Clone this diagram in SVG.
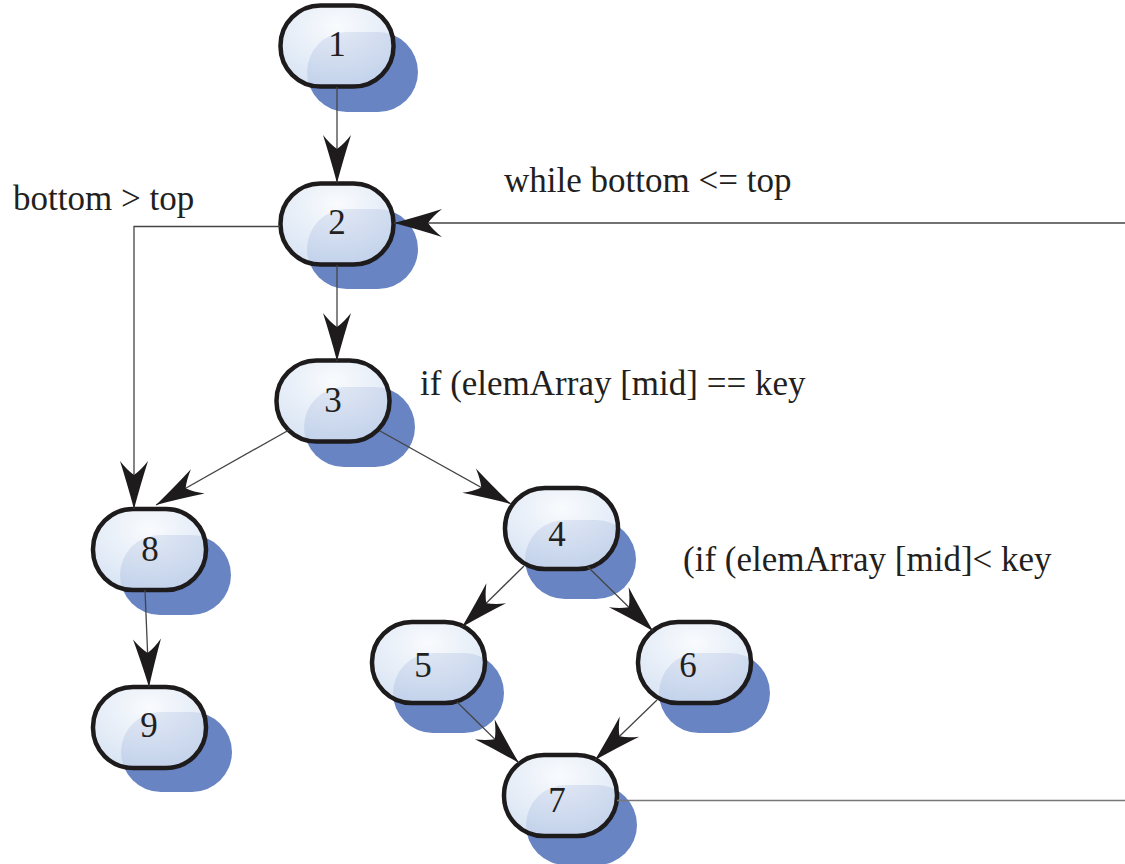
<svg xmlns="http://www.w3.org/2000/svg" width="1125" height="864" viewBox="0 0 1125 864">
<style>
.shadow{fill:#6884c3}
.body{fill:url(#g);fill-opacity:0.86;stroke:#1e1b1c;stroke-width:4.5}
.num{font-family:"Liberation Serif","DejaVu Serif",serif;font-size:35px;fill:#231f20;text-anchor:middle}
.lbl{font-family:"Liberation Serif","DejaVu Serif",serif;font-size:35px;fill:#231f20}
.edge{fill:none;stroke:#444;stroke-width:1.3;marker-end:url(#arr)}
.edge2{fill:none;stroke:#777;stroke-width:1.5}
</style>
<defs>
<radialGradient id="g" cx="0.5" cy="0.25" r="0.8">
<stop offset="0" stop-color="#f8fafd"/>
<stop offset="1" stop-color="#d0def1"/>
</radialGradient>
<marker id="arr" markerUnits="userSpaceOnUse" markerWidth="60" markerHeight="40" viewBox="0 0 60 40" refX="50" refY="20" orient="auto">
<path d="M50,20 Q24,13 2,6 Q11,13 16,20 Q11,27 2,34 Q24,27 50,20 Z" fill="#1e1b1c"/>
</marker>
</defs>
<rect width="1125" height="864" fill="#ffffff"/>

<g id="node1">
<rect class="shadow" x="307" y="32" width="111" height="80" rx="40"/>
<rect class="body" x="280.5" y="5.5" width="113" height="81" rx="40"/>
<text class="num" x="337" y="56">1</text>
</g>
<g id="node2">
<rect class="shadow" x="307" y="209" width="111" height="80" rx="40"/>
<rect class="body" x="280.5" y="183.5" width="113" height="81" rx="40"/>
<text class="num" x="337" y="234">2</text>
</g>
<g id="node3">
<rect class="shadow" x="304" y="387" width="111" height="80" rx="40"/>
<rect class="body" x="276.5" y="360.5" width="113" height="81" rx="40"/>
<text class="num" x="333" y="412">3</text>
</g>
<g id="node4">
<rect class="shadow" x="525" y="520" width="111" height="79" rx="40"/>
<rect class="body" x="505" y="488" width="113" height="81" rx="40"/>
<text class="num" x="557" y="546">4</text>
</g>
<g id="node5">
<rect class="shadow" x="393" y="653" width="111" height="80" rx="40"/>
<rect class="body" x="372" y="622" width="113" height="81" rx="40"/>
<text class="num" x="423" y="677">5</text>
</g>
<g id="node6">
<rect class="shadow" x="659" y="653" width="111" height="80" rx="40"/>
<rect class="body" x="638" y="622" width="113" height="81" rx="40"/>
<text class="num" x="688" y="677">6</text>
</g>
<g id="node7">
<rect class="shadow" x="526" y="785" width="111" height="80" rx="40"/>
<rect class="body" x="504" y="755" width="113" height="81" rx="40"/>
<text class="num" x="557" y="812">7</text>
</g>
<g id="node8">
<rect class="shadow" x="120" y="535" width="111" height="80" rx="40"/>
<rect class="body" x="93" y="509" width="113" height="81" rx="40"/>
<text class="num" x="150" y="561">8</text>
</g>
<g id="node9">
<rect class="shadow" x="121" y="712" width="111" height="80" rx="40"/>
<rect class="body" x="93" y="687" width="113" height="81" rx="40"/>
<text class="num" x="149" y="737">9</text>
</g>

<g id="connectors">
<path class="edge" d="M337,87 V183"/>
<path class="edge" d="M337,265 V361"/>
<path class="edge" d="M280,226.5 H134 V509"/>
<path class="edge" d="M289,430 L156,505"/>
<path class="edge" d="M380,431 L511,504"/>
<path class="edge" d="M524,566 L462,627"/>
<path class="edge" d="M588,567 L653,631"/>
<path class="edge" d="M457,702 L519,763"/>
<path class="edge" d="M657,700 L595,760"/>
<path class="edge" d="M145,590 L149,687"/>
<path class="edge2" d="M617,800.5 H1125"/>
<path class="edge" d="M1125,223 H394"/>
</g>

<g id="labels">
<text class="lbl" x="13" y="210">bottom &gt; top</text>
<text class="lbl" x="504" y="192">while bottom &lt;= top</text>
<text class="lbl" x="420" y="395">if (elemArray [mid] == key</text>
<text class="lbl" x="683" y="571">(if (elemArray [mid]&lt; key</text>
</g>
</svg>
